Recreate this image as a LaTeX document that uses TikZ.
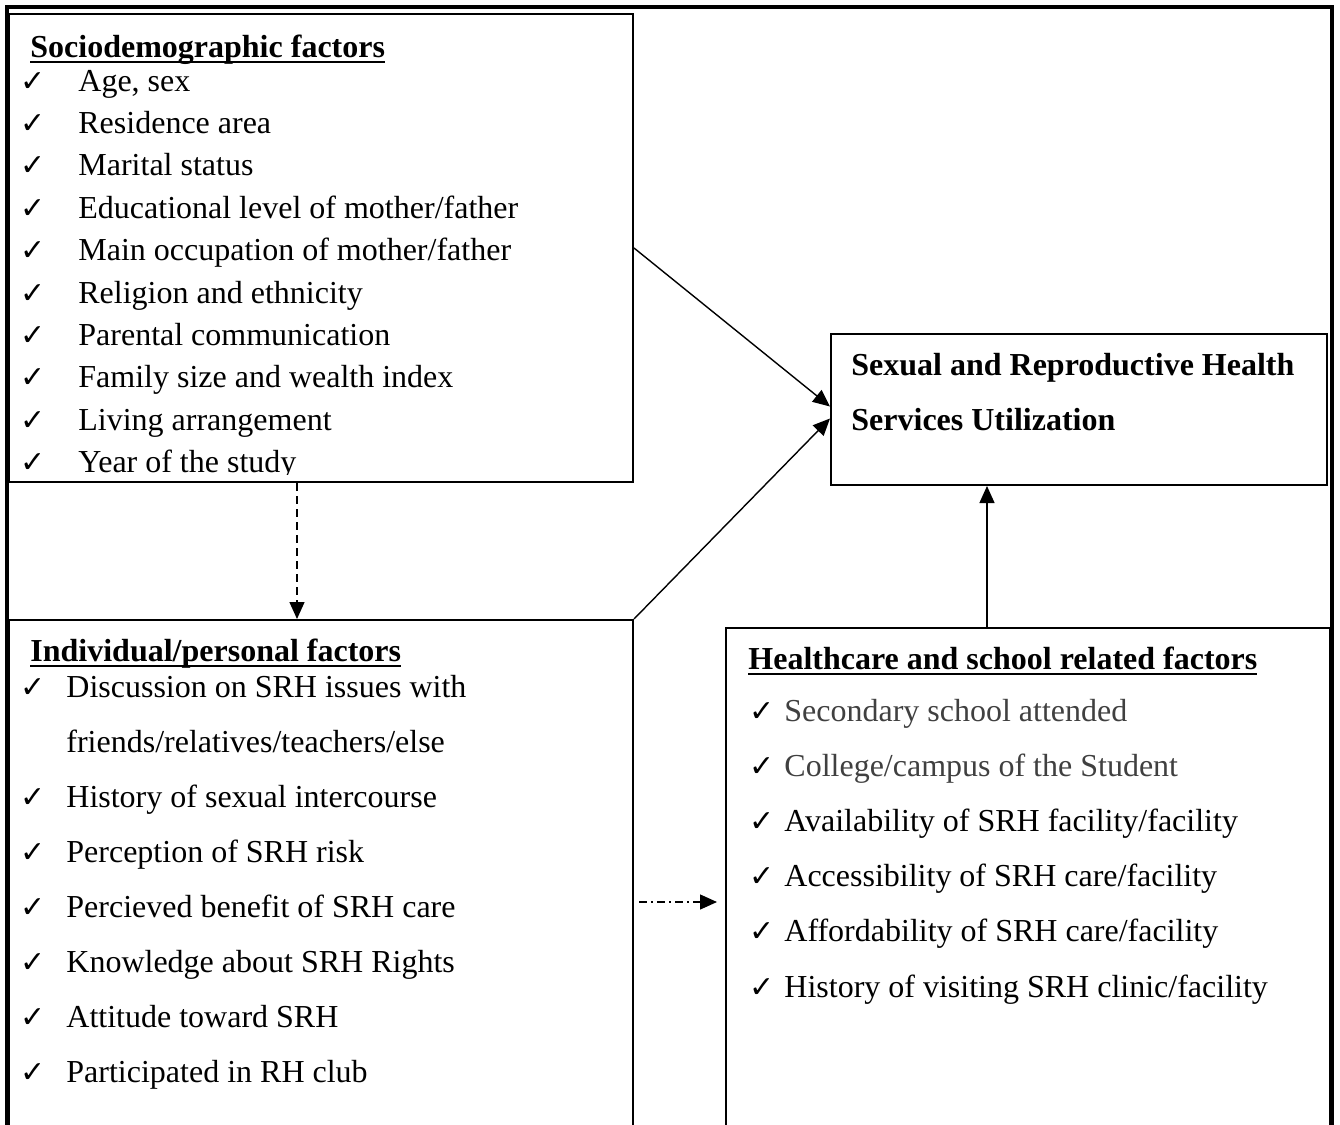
\documentclass[tikz,border=0pt]{standalone}
\usepackage{fontspec}
\setmainfont{Liberation Serif}
\newfontfamily\tickfont{DejaVu Sans}
\usepackage{tikz}
\usetikzlibrary{arrows.meta,calc}
\definecolor{itemgray}{HTML}{404040}
\newcommand\chk{{\tickfont\fontsize{15}{15}\selectfont ✓}}
\newcommand\headul[1]{\setbox0\hbox{\bfseries #1}\leavevmode\rlap{\rule[-3.2pt]{\wd0}{1.4pt}}\box0}
\tikzset{
  box/.style={draw, line width=1pt, inner sep=0pt},
  item/.style={anchor=base west, inner sep=0pt, font=\fontsize{16}{19}\selectfont},
  arr/.style={-{Triangle[length=8.5pt,width=7.5pt]}, line width=0.7pt},
}

\begin{document}
\begin{tikzpicture}[x=0.5pt,y=-0.5pt]
    \useasboundingbox (0,0) rectangle (1340,1125);
    \clip (0,0) rectangle (1340,1125);
    % outer frame, open at the bottom
    \draw[line width=1.6pt] (7,1140) -- (7,7) -- (1332,7) -- (1332,1140);

    % boxes
    \node[box, minimum width=312pt, minimum height=234pt] (socio) at (321,248) {};
    \node[box, minimum width=312pt, minimum height=257.5pt] (indiv) at (321,877.5) {};
    \node[box, minimum width=302pt, minimum height=253.5pt] (health) at (1028,881.5) {};
    \node[box, minimum width=248pt, minimum height=75.5pt] (srh) at (1079,409.5) {};

    % sociodemographic factors
    \node[item] (sochead) at (30,57) {\headul{Sociodemographic factors}};
    \foreach \txt [count=\i from 0] in {{Age, sex},Residence area,Marital status,
        Educational level of mother/father,Main occupation of mother/father,
        Religion and ethnicity,Parental communication,Family size and wealth index,
        Living arrangement}
      \node[item] (soc\i) at (20,91+42.4*\i) {\makebox[29pt][l]{\chk}\txt};
    \begin{scope}
      \clip (0,0) rectangle (633,474);
      \node[item] (soc9) at (20,472.6) {\makebox[29pt][l]{\chk}Year of the study};
    \end{scope}

    % individual/personal factors
    \node[item] (indhead) at (30,661) {\headul{Individual/personal factors}};
    \node[item] (ind1) at (66,752) {friends/relatives/teachers/else};
    \foreach \txt/\j in {Discussion on SRH issues with/0,History of sexual intercourse/2,
        Perception of SRH risk/3,Percieved benefit of SRH care/4,
        Knowledge about SRH Rights/5,Attitude toward SRH/6,Participated in RH club/7}
      \node[item] (ind\j) at (20,697+55*\j) {\makebox[23pt][l]{\chk}\txt};

    % healthcare and school related factors
    \node[item] (hlthead) at (748,669) {\headul{Healthcare and school related factors}};
    \foreach \col/\txt [count=\i from 0] in {itemgray/{Secondary school attended},
        itemgray/{College/campus of the Student},
        black/{Availability of SRH facility/facility},
        black/{Accessibility of SRH care/facility},
        black/{Affordability of SRH care/facility},
        black/{History of visiting SRH clinic/facility}}
      \node[item] (hlt\i) at (749,721+55.2*\i) {\makebox[17.5pt][l]{\chk}\textcolor{\col}{\txt}};

    % outcome
    \node[item, font=\fontsize{16}{19}\selectfont\bfseries] (srh1) at (851,375) {Sexual and Reproductive Health};
    \node[item, font=\fontsize{16}{19}\selectfont\bfseries] (srh2) at (851,430) {Services Utilization};

    % connectors
    \draw[arr] (socio.east) -- ($(srh.west)+(0,-3)$);
    \draw[arr] (indiv.north east) -- ($(srh.west)+(0,9)$);
    \draw[arr] ([xshift=-20.5pt]health.north) -- ([xshift=-20.5pt]health.north |- srh.south);
    \draw[arr, dash pattern=on 4pt off 2.5pt] ([xshift=-12pt]socio.south) -- ([xshift=-12pt]indiv.north);
    \coordinate (dd) at (638,902);
    \draw[arr, dash pattern=on 4pt off 2pt on 1pt off 2pt, shorten <=2.5pt, shorten >=4pt]
      (indiv.east |- dd) -- (health.west |- dd);
\end{tikzpicture}
\end{document}
